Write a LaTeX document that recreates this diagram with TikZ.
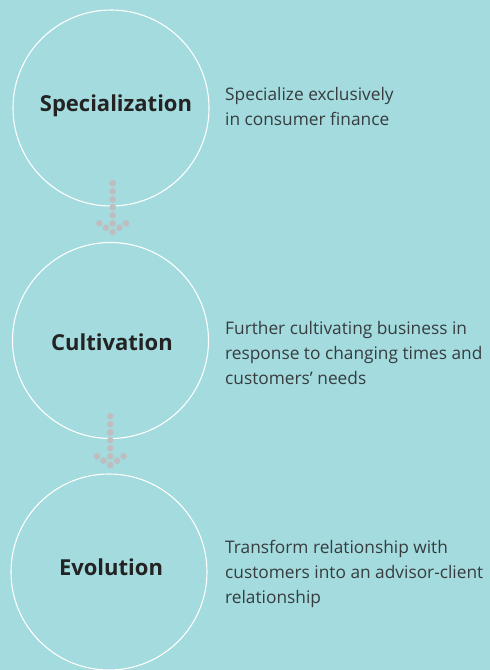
\documentclass[tikz,border=0pt]{standalone}
\usepackage{fontspec}
\setmainfont{Open Sans}
\definecolor{bg}{RGB}{163,219,222}
\definecolor{dotc}{RGB}{190,190,192}
\definecolor{labc}{RGB}{35,35,35}
\definecolor{txtc}{RGB}{55,60,62}
\begin{document}
\begin{tikzpicture}[x=1pt,y=-1pt,
  stage/.style={circle,draw=white,line width=1.1pt,minimum size=196pt,inner sep=0pt},
  stagelabel/.style={font=\fontsize{22}{26}\selectfont\bfseries,text=labc,inner sep=0pt},
  desc/.style={anchor=base west,align=left,font=\fontsize{17.3}{25}\selectfont,text=txtc,inner sep=0pt},
  dotarrow/.style={fill=dotc}]
\fill[bg] (0,0) rectangle (490,670);
\useasboundingbox (0,0) rectangle (490,670);
% stages
\node[stage] (s1) at (111,108) {};
\node[stage] (s2) at (110.5,340.5) {};
\node[stage] (s3) at (109,572) {};
\node[stagelabel] (l1) at (116,106) {Specialization};
\node[stagelabel] (l2) at (112,342) {Cultivation};
\node[stagelabel] (l3) at (111,567) {Evolution};
% descriptions (anchor = baseline of last line)
\node[desc] (d1) at (225,125) {Specialize exclusively\\in consumer finance};
\node[desc] (d2) at (225,384) {Further cultivating business in\\response to changing times and\\customers’ needs};
\node[desc] (d3) at (225,603) {Transform relationship with\\customers into an advisor-client\\relationship};
% dotted arrows
\coordinate (a1) at (112.7,183.3);
\coordinate (a2) at (110.3,416.3);
\foreach \a in {a1,a2}{
  \begin{scope}[shift={(\a)}]
    \foreach \p in {(0,0),(0,8),(0,16),(0,24),(0,32),(0,40),(-13.3,40),(-6.7,44.4),(6.7,44.4),(13.3,40),(0,48.7)}
      \fill[dotarrow] \p circle[radius=3.3];
  \end{scope}
}
\end{tikzpicture}
\end{document}
